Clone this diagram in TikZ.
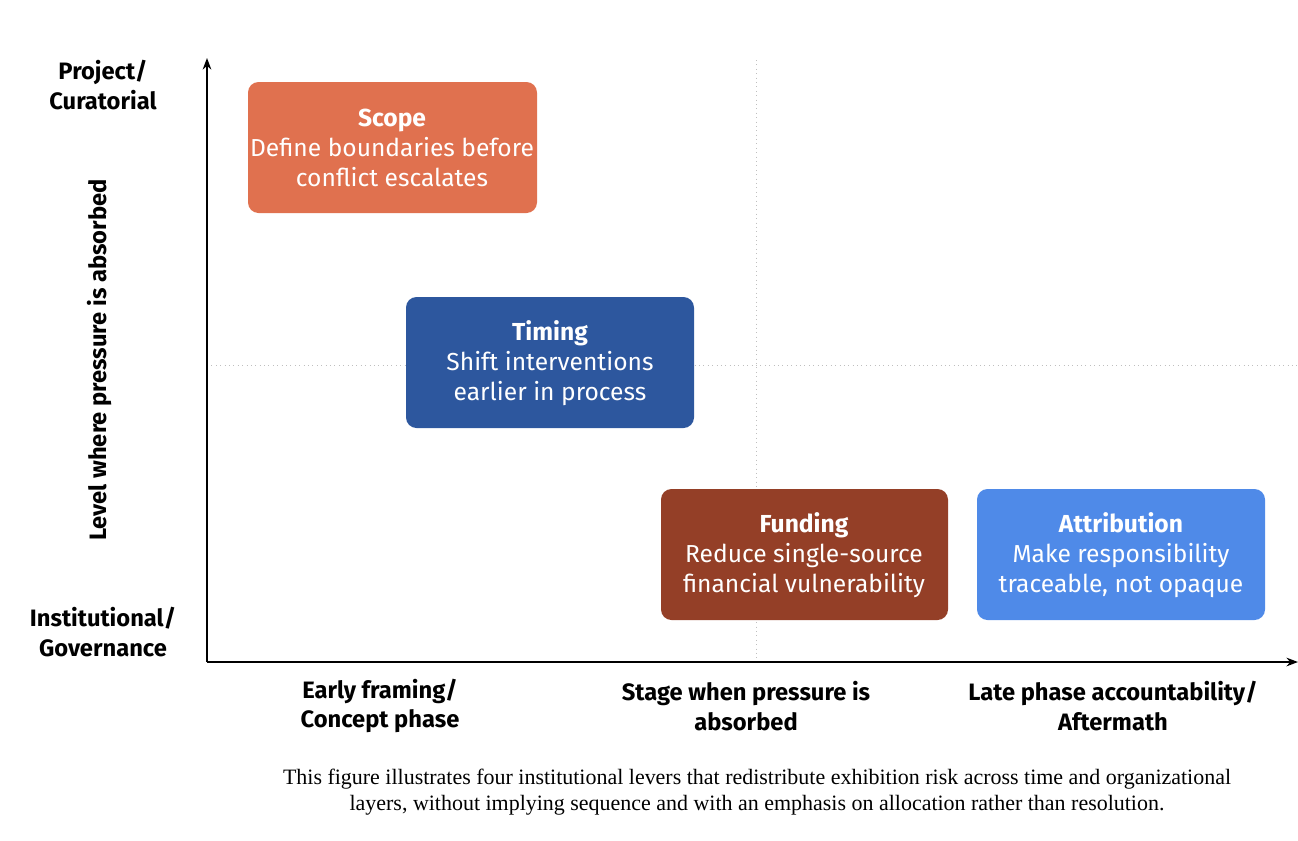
\documentclass[tikz,border=0pt]{standalone}
\usepackage{fontspec}
\setmainfont{Liberation Serif}
\newfontfamily\labelfont{Fira Sans}
\usetikzlibrary{arrows.meta}
\tikzset{>=Stealth}
\tikzset{lever/.style={rounded corners=6pt, text=white, align=center, font=\labelfont\fontsize{14}{17}\selectfont}}
\tikzset{axlab/.style={align=center, font=\labelfont\bfseries\fontsize{13.5}{17}\selectfont}}
\tikzset{guide/.style={gray!50, dotted, line width=0.5pt}}
\definecolor{scopec}{HTML}{E0714F}
\definecolor{timingc}{HTML}{2D579E}
\definecolor{fundingc}{HTML}{943F27}
\definecolor{attribc}{HTML}{4F8AE8}
\begin{document}
\begin{tikzpicture}[x=0.02cm,y=-0.02cm]
\useasboundingbox (0,0) rectangle (1298,840);

% guides
\draw[guide] (756,60) -- (756,662);
\draw[guide] (207,365) -- (1298,365);

% axes
\coordinate (o) at (207,662);
\coordinate (ytop) at (207,58);
\coordinate (xend) at (1298,662);
\draw[->, line width=0.8pt] (o) -- (ytop);
\draw[->, line width=0.8pt] (o) -- (xend);

% levers
\fill[scopec, rounded corners=6pt] (248,82) rectangle (537,213);
\node[lever] (scope) at (392,148) {\textbf{Scope}\\Define boundaries before\\conflict escalates};
\fill[timingc, rounded corners=6pt] (406,297) rectangle (694,428);
\node[lever] (timing) at (550,363) {\textbf{Timing}\\Shift interventions\\earlier in process};
\fill[fundingc, rounded corners=6pt] (661,489) rectangle (948,620);
\node[lever] (funding) at (804,555) {\textbf{Funding}\\Reduce single-source\\financial vulnerability};
\fill[attribc, rounded corners=6pt] (977,489) rectangle (1265,620);
\node[lever] (attrib) at (1121,555) {\textbf{Attribution}\\Make responsibility\\traceable, not opaque};

% axis labels
\node[axlab] (ytoplab) at (103,85) {Project/\\Curatorial};
\node[axlab] (ybotlab) at (103,632) {Institutional/\\Governance};
\node[axlab, rotate=90] (ylab) at (100,360) {Level where pressure is absorbed};
\node[axlab] (xa) at (380,706) {Early framing/\\Concept phase};
\node[axlab] (xb) at (746,706) {Stage when pressure is\\absorbed};
\node[axlab] (xc) at (1113,706) {Late phase accountability/\\Aftermath};

% caption
\node[align=center, font=\fontsize{12.5}{14.5}\selectfont] (cap) at (757,792)
  {This figure illustrates four institutional levers that redistribute exhibition risk across time and organizational\\layers, without implying sequence and with an emphasis on allocation rather than resolution.};
\end{tikzpicture}
\end{document}
